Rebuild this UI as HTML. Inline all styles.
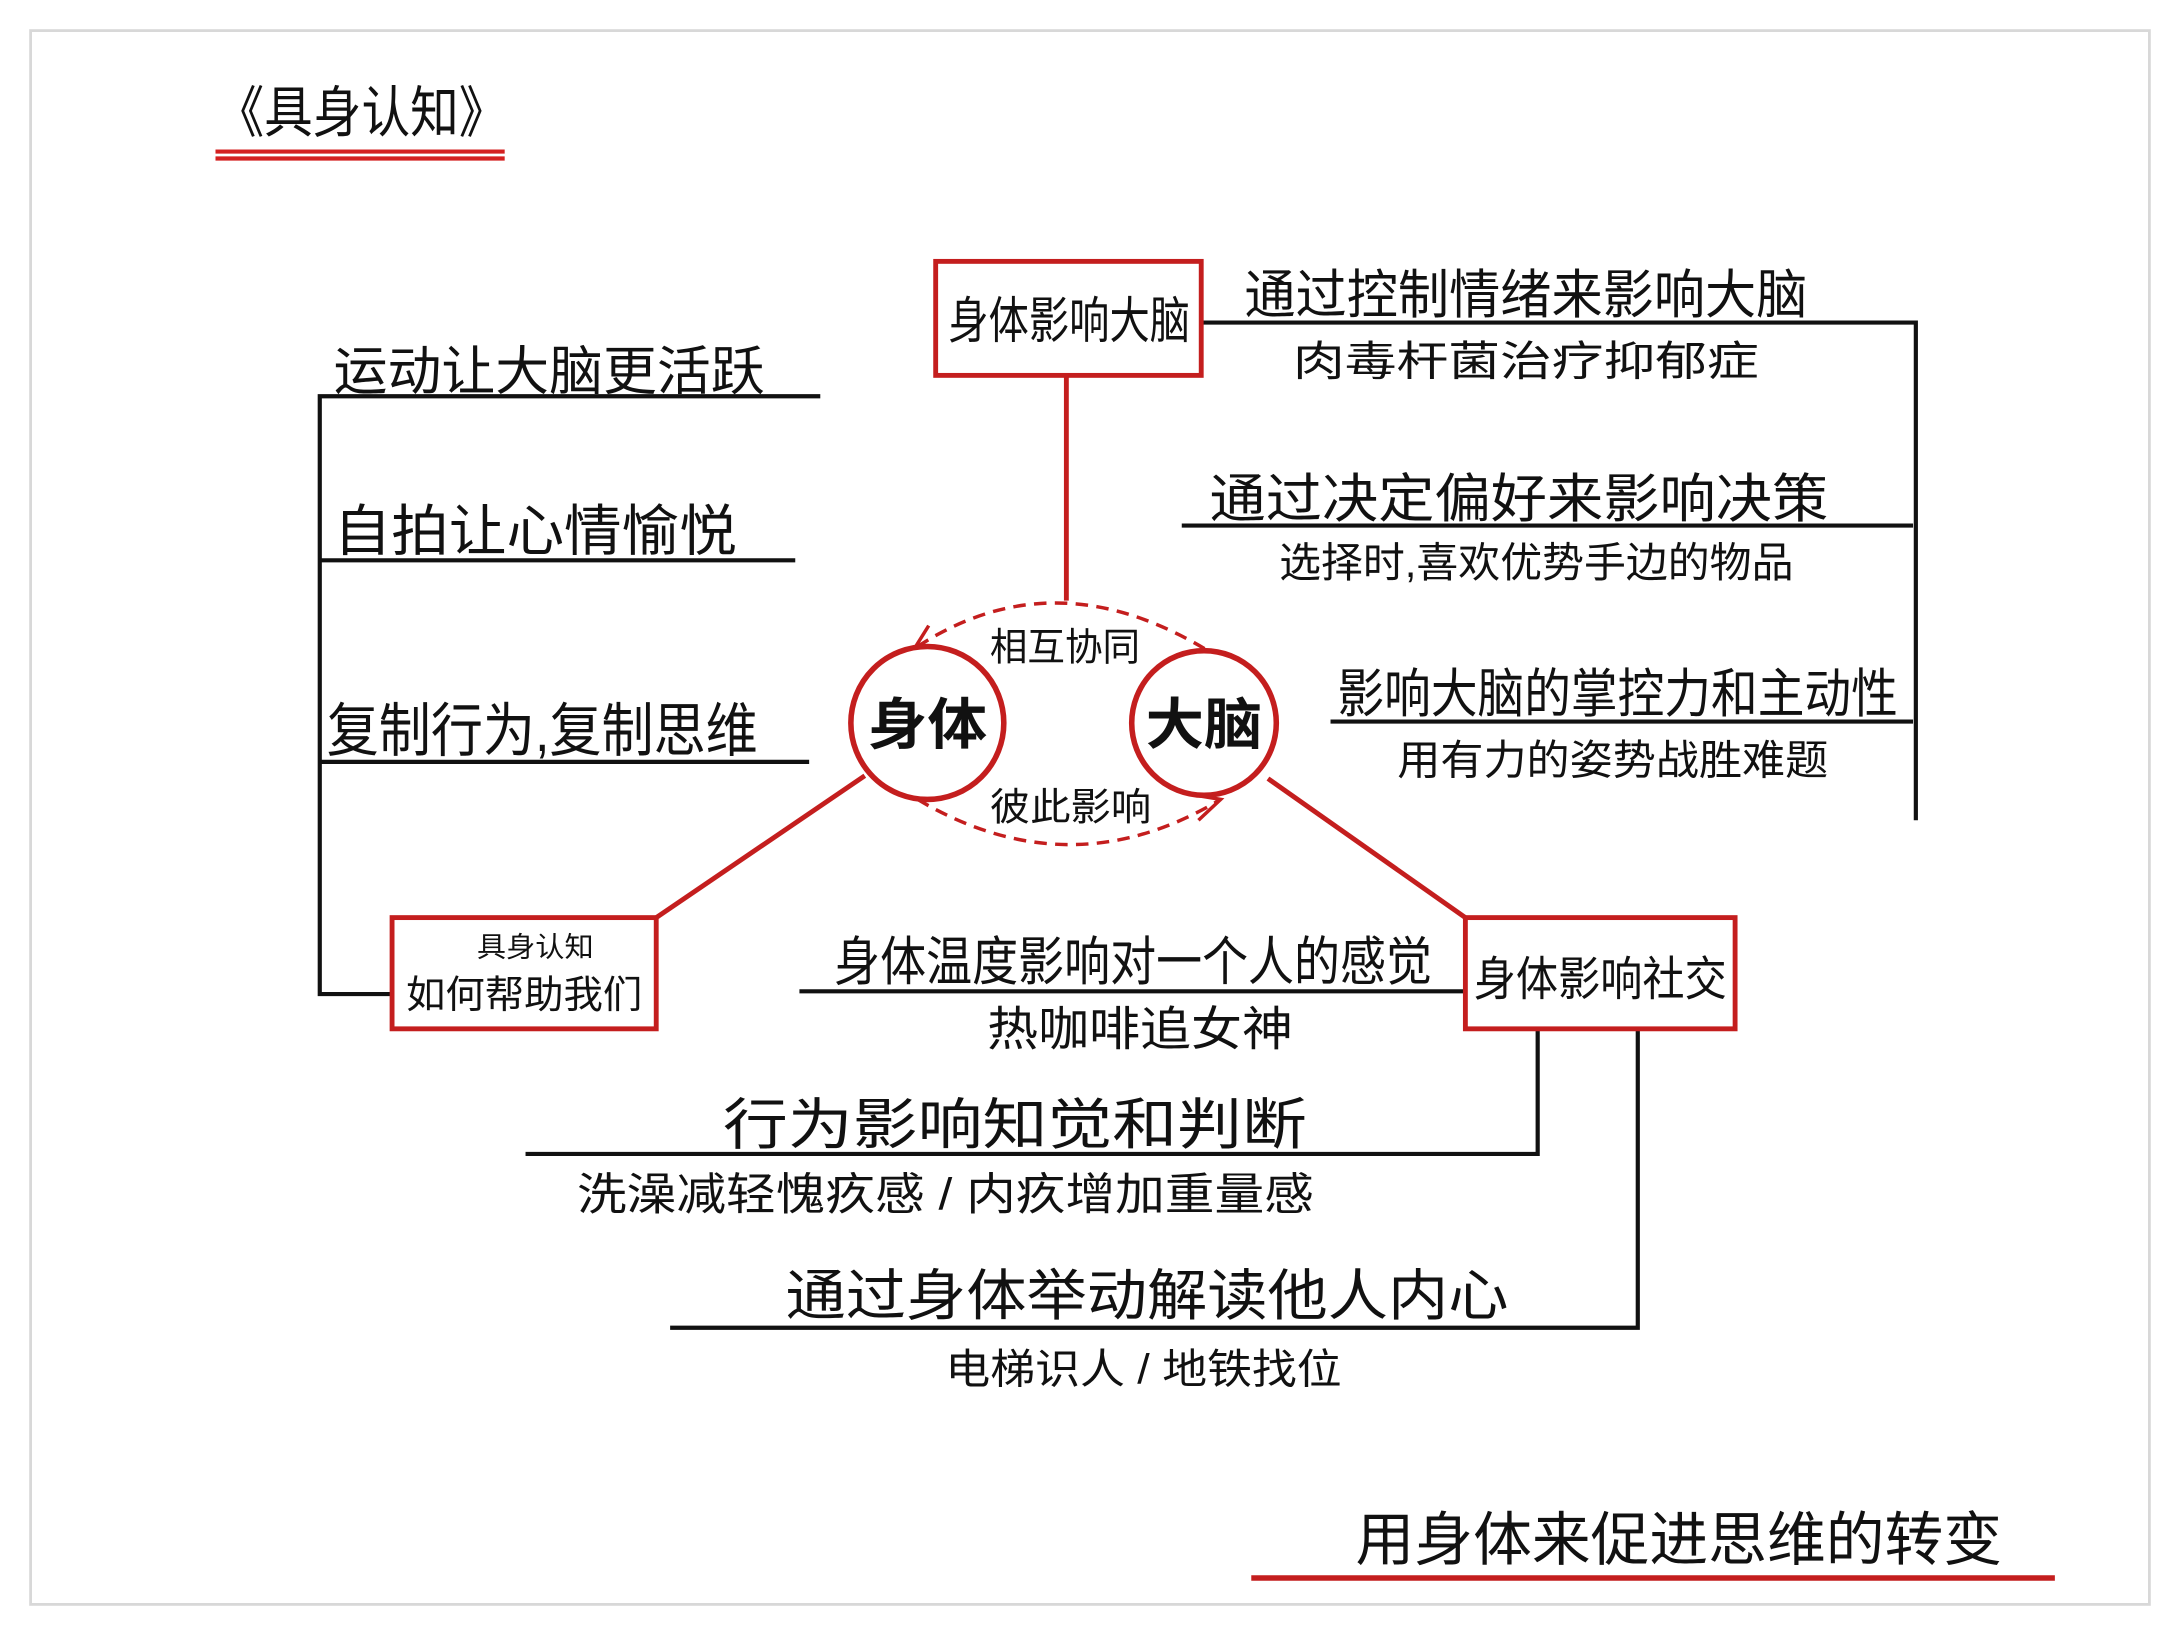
<!DOCTYPE html>
<html><head><meta charset="utf-8"><style>
html,body{margin:0;padding:0;background:#fff;}
svg{display:block;}
text{font-family:"Liberation Sans","Noto Sans CJK SC",sans-serif;fill:#111;}
</style></head><body>
<svg width="2180" height="1635" viewBox="0 0 1568 1176" xmlns="http://www.w3.org/2000/svg">
<rect x="0" y="0" width="1568" height="1176" fill="#fff"/>
<rect x="22" y="22" width="1524" height="1132" fill="#fff" stroke="#d8d8d8" stroke-width="2"/>
<!-- title -->
<text x="155" y="95" font-size="40" textLength="210" lengthAdjust="spacingAndGlyphs">《具身认知》</text>
<line x1="155" y1="109" x2="363" y2="109" stroke="#d42020" stroke-width="3"/>
<line x1="155" y1="114" x2="363" y2="114" stroke="#d42020" stroke-width="3"/>
<!-- black lines -->
<g stroke="#111" stroke-width="3" fill="none">
<polyline points="864,232 1378,232 1378,590"/>
<line x1="850" y1="378" x2="1376" y2="378"/>
<line x1="957" y1="519" x2="1376" y2="519"/>
<polyline points="590,285 230,285 230,715 282,715"/>
<line x1="230" y1="403" x2="572" y2="403"/>
<line x1="230" y1="548" x2="582" y2="548"/>
<line x1="575" y1="713" x2="1054" y2="713"/>
<polyline points="1106,740 1106,830 378,830"/>
<polyline points="1178,740 1178,955 482,955"/>
</g>
<!-- red lines -->
<g stroke="#c41e1e" stroke-width="3.5" fill="none">
<line x1="767" y1="270" x2="767" y2="432"/>
<line x1="472" y1="660" x2="622" y2="558"/>
<line x1="912" y1="560" x2="1054" y2="660"/>
<path d="M660,465 Q760,400 872,470" stroke-dasharray="9,6" stroke-width="2.5"/>
<path d="M660,575 Q770,640 878,575" stroke-dasharray="9,6" stroke-width="2.5"/>
<polyline points="668,450 658,466 676,466" stroke-width="2.5"/>
<polyline points="862,590 878,575 860,572" stroke-width="2.5"/>
<rect x="673" y="188" width="191" height="82" fill="#fff"/>
<rect x="282" y="660" width="190" height="80" fill="#fff"/>
<rect x="1054" y="660" width="194" height="80" fill="#fff"/>
<circle cx="667" cy="520" r="55" fill="#fff" stroke-width="4"/>
<circle cx="866" cy="520" r="52" fill="#fff" stroke-width="4"/>
</g>
<!-- node text -->
<text x="682" y="243" font-size="36" textLength="174" lengthAdjust="spacingAndGlyphs">身体影响大脑</text>
<text x="624" y="535" font-size="40" font-weight="bold" textLength="86" lengthAdjust="spacingAndGlyphs">身体</text>
<text x="824" y="535" font-size="40" font-weight="bold" textLength="84" lengthAdjust="spacingAndGlyphs">大脑</text>
<text x="712" y="475" font-size="28" textLength="108" lengthAdjust="spacingAndGlyphs">相互协同</text>
<text x="712" y="590" font-size="28" textLength="116" lengthAdjust="spacingAndGlyphs">彼此影响</text>
<text x="343" y="688" font-size="20" textLength="84" lengthAdjust="spacingAndGlyphs">具身认知</text>
<text x="292" y="725" font-size="28" textLength="170" lengthAdjust="spacingAndGlyphs">如何帮助我们</text>
<text x="1060" y="716" font-size="34" textLength="182" lengthAdjust="spacingAndGlyphs">身体影响社交</text>
<!-- right texts -->
<text x="895" y="225" font-size="38" textLength="405" lengthAdjust="spacingAndGlyphs">通过控制情绪来影响大脑</text>
<text x="930" y="270" font-size="30" textLength="335" lengthAdjust="spacingAndGlyphs">肉毒杆菌治疗抑郁症</text>
<text x="870" y="372" font-size="38" textLength="445" lengthAdjust="spacingAndGlyphs">通过决定偏好来影响决策</text>
<text x="920" y="415" font-size="30" textLength="370" lengthAdjust="spacingAndGlyphs">选择时,喜欢优势手边的物品</text>
<text x="962" y="512" font-size="38" textLength="403" lengthAdjust="spacingAndGlyphs">影响大脑的掌控力和主动性</text>
<text x="1005" y="557" font-size="30" textLength="310" lengthAdjust="spacingAndGlyphs">用有力的姿势战胜难题</text>
<!-- left texts -->
<text x="240" y="280" font-size="38" textLength="310" lengthAdjust="spacingAndGlyphs">运动让大脑更活跃</text>
<text x="240" y="396" font-size="40" textLength="290" lengthAdjust="spacingAndGlyphs">自拍让心情愉悦</text>
<text x="235" y="540" font-size="42" textLength="310" lengthAdjust="spacingAndGlyphs">复制行为,复制思维</text>
<!-- bottom texts -->
<text x="600" y="705" font-size="38" textLength="430" lengthAdjust="spacingAndGlyphs">身体温度影响对一个人的感觉</text>
<text x="710" y="752" font-size="34" textLength="220" lengthAdjust="spacingAndGlyphs">热咖啡追女神</text>
<text x="520" y="823" font-size="40" textLength="420" lengthAdjust="spacingAndGlyphs">行为影响知觉和判断</text>
<text x="415" y="870" font-size="32" textLength="530" lengthAdjust="spacingAndGlyphs">洗澡减轻愧疚感 / 内疚增加重量感</text>
<text x="565" y="946" font-size="40" textLength="520" lengthAdjust="spacingAndGlyphs">通过身体举动解读他人内心</text>
<text x="680" y="995" font-size="30" textLength="285" lengthAdjust="spacingAndGlyphs">电梯识人 / 地铁找位</text>
<text x="975" y="1122" font-size="42" textLength="465" lengthAdjust="spacingAndGlyphs">用身体来促进思维的转变</text>
<line x1="900" y1="1135" x2="1478" y2="1135" stroke="#c41e1e" stroke-width="4"/>
</svg>
</body></html>
